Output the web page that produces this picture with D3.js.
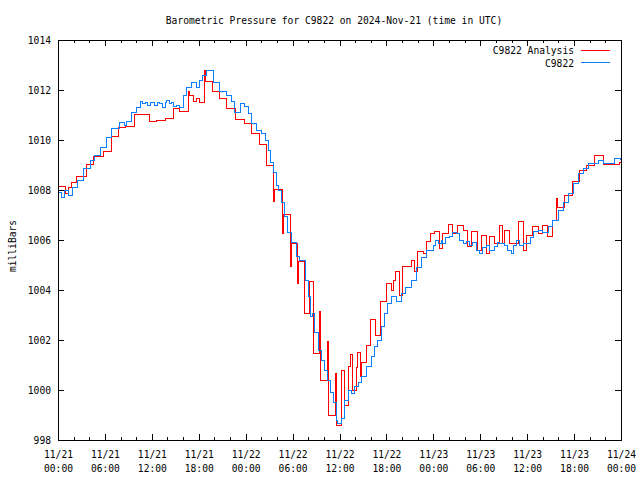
<!DOCTYPE html>
<html><head><meta charset="utf-8">
<script src="https://cdn.jsdelivr.net/npm/d3@7"></script>
<style>
body{margin:0;background:#fff}
svg{display:block}
text{font-family:"DejaVu Sans Mono","Liberation Mono",monospace;font-size:11px;fill:#000}
</style>
</head><body><svg id="c" width="640" height="480"></svg>
<script>
const chartTitle = "Barometric Pressure for C9822 on 2024-Nov-21 (time in UTC)";
const yLabel = "milliBars";
const seriesNames = ["C9822 Analysis", "C9822"];
const seriesColors = ["#ff0000", "#0a80ff"];
const yTicks = [998, 1000, 1002, 1004, 1006, 1008, 1010, 1012, 1014];
const startUTC = Date.UTC(2024, 10, 21, 0, 0);
const endUTC = Date.UTC(2024, 10, 24, 0, 0);

// Analysis (hours since start, mb)
const analysisHours = [0,0.9,1.32,1.75,2.39,3.67,4.6,5.78,6.86,7.7,8.69,9.75,11.75,12.61,13.8,14.73,15.59,16.65,16.78,17.27,17.72,18.06,18.7,18.87,19.76,20.7,21.5,22.74,23.89,24.75,25.72,26.67,27.5,27.64,28.75,28.9,29.7,29.85,30.65,30.8,31.56,32.13,32.65,33.4,33.6,34.45,34.6,35.5,35.65,36.2,36.67,37.1,37.4,37.65,38.17,38.3,38.7,38.85,39.5,39.95,40.6,41.2,42.0,42.6,42.85,43.2,43.7,44.1,45.2,45.6,46.0,46.8,47.1,47.7,48.2,48.8,49.2,49.9,50.5,51.1,51.8,52.4,52.9,53.6,54.1,54.8,55.2,55.8,56.4,56.9,57.1,57.8,58.9,59.5,59.9,60.7,61.4,62.0,62.6,63.3,63.7,63.85,64.8,65.85,66.7,67.55,68.6,69.7,71.8,72];
const analysisValues = [1008.16,1007.87,1008.10,1008.29,1008.53,1009.04,1009.36,1009.56,1010.13,1010.51,1010.56,1011.04,1010.76,1010.80,1010.87,1011.27,1011.13,1011.93,1011.80,1011.53,1011.67,1011.49,1012.80,1012.33,1011.93,1011.67,1011.27,1010.84,1010.67,1010.27,1009.83,1009.00,1007.53,1008.03,1006.28,1007.04,1004.93,1005.87,1004.27,1005.13,1003.07,1004.33,1001.47,1003.13,1000.40,1001.93,999.00,1000.67,998.60,1000.80,999.40,1000.93,1001.44,1000.00,1000.91,1001.49,1000.53,1001.10,1001.80,1002.83,1002.20,1003.53,1004.27,1004.00,1004.40,1004.73,1003.80,1004.93,1005.20,1004.73,1005.53,1005.47,1005.93,1006.27,1006.33,1005.67,1006.27,1006.64,1006.27,1006.60,1006.40,1005.73,1006.33,1005.60,1006.20,1005.47,1006.13,1005.87,1006.60,1005.88,1006.40,1005.88,1006.73,1005.60,1006.20,1006.53,1006.27,1006.60,1006.13,1006.80,1007.67,1007.31,1007.80,1008.33,1008.80,1009.00,1009.40,1009.03,1009.10,1009.10];

// Station observations (hours since start, mb)
const obsHours = [0,0.4,0.8,1.3,1.9,2.5,3.2,4.1,4.7,5.4,6.2,6.9,7.9,8.5,8.8,9.4,10.0,10.5,10.8,11.2,11.5,11.8,12.3,12.7,13.0,13.4,13.7,13.9,14.2,14.5,14.8,15.2,15.5,16.0,16.4,17.1,17.7,18.1,18.5,19.0,19.9,20.7,21.6,22.2,22.6,23.3,23.9,24.3,24.7,25.4,26.0,26.5,26.9,27.2,27.6,27.9,28.2,28.6,29.0,29.4,29.9,30.5,30.9,31.6,32.0,32.3,32.6,32.8,33.3,33.7,34.1,34.5,34.8,35.2,35.6,35.8,36.2,36.7,37.1,37.5,37.9,38.4,38.8,39.4,40.1,40.5,40.9,41.4,41.8,42.2,42.6,43.3,43.9,44.5,45.2,45.8,46.5,47.1,48.0,48.3,48.6,49.0,49.2,49.6,50.1,50.5,51.0,51.3,51.8,52.2,52.6,53.0,53.5,53.9,54.3,54.8,55.2,55.8,56.2,56.5,57.1,57.5,58.0,58.3,58.6,59.0,59.5,60.1,60.4,60.8,61.4,62.0,62.7,63.3,64.0,64.6,65.3,65.9,66.6,67.2,67.8,68.5,69.1,69.8,70.6,71.2,71.9];
const obsValues = [1007.9,1007.7,1008.0,1007.8,1008.1,1008.4,1008.85,1009.2,1009.4,1009.7,1010.1,1010.45,1010.7,1010.6,1010.75,1011.1,1011.3,1011.55,1011.45,1011.5,1011.4,1011.5,1011.4,1011.5,1011.45,1011.3,1011.5,1011.6,1011.45,1011.5,1011.35,1011.4,1011.3,1011.8,1012.1,1012.3,1012.1,1012.4,1012.6,1012.8,1012.3,1011.95,1011.8,1011.55,1011.1,1011.45,1011.35,1011.05,1010.65,1010.4,1010.25,1010.0,1009.6,1009.1,1008.7,1008.2,1008.0,1007.5,1006.95,1006.3,1005.9,1005.35,1005.2,1004.4,1003.75,1002.95,1003.05,1002.3,1001.6,1001.2,1000.8,1000.4,999.9,999.5,998.8,998.65,998.85,999.6,1000.0,999.85,1000.15,1000.3,1000.55,1000.95,1001.35,1001.75,1002.0,1002.55,1003.05,1003.45,1003.75,1003.55,1003.85,1004.1,1004.4,1004.9,1005.3,1005.6,1005.8,1006.0,1005.85,1006.0,1005.85,1006.1,1006.15,1006.3,1006.25,1006.0,1005.85,1005.95,1005.8,1005.9,1005.6,1005.45,1005.7,1005.8,1005.6,1005.75,1005.9,1005.85,1005.8,1005.6,1005.45,1005.8,1006.0,1005.8,1005.85,1005.85,1006.1,1006.35,1006.4,1006.3,1006.55,1006.8,1007.2,1007.5,1007.85,1008.25,1008.65,1008.85,1009.05,1009.05,1009.2,1009.05,1009.05,1009.25,1009.2];

const svg = d3.select("#c");
const L = 58, R = 621, T = 40, B = 440;
const CW = 5.8; // character advance of the chart font
const x = d3.scaleUtc().domain([new Date(startUTC), new Date(endUTC)]).range([L, R]);
const y = d3.scaleLinear().domain([998, 1014]).range([B, T]);
const H = 3600e3;
const toDate = h => new Date(startUTC + h * H);
const fit = sel => sel.attr("textLength", function() { return this.textContent.length * CW; }).attr("lengthAdjust", "spacingAndGlyphs");

const majorX = d3.range(0, 73, 6).map(toDate);
const minorX = d3.range(0, 73, 2).filter(h => h % 6 !== 0).map(toDate);

// title
svg.append("text").attr("x", 334).attr("y", 24).attr("text-anchor", "middle").text(chartTitle).call(fit);

// y label
svg.append("text").attr("transform", "translate(16,246) rotate(-90)").attr("text-anchor", "middle").text(yLabel).call(fit);

// data lines
const line = d3.line().x(d => x(d.t)).y(d => y(d.v)).curve(d3.curveStepAfter);
const aData = analysisHours.map((h, i) => ({t: toDate(h), v: analysisValues[i]}));
const oData = obsHours.map((h, i) => ({t: toDate(h), v: obsValues[i]}));
const plot = svg.append("g");
plot.append("path").datum(aData).attr("d", line).attr("fill", "none").attr("stroke", seriesColors[0]).attr("stroke-width", 1).attr("shape-rendering", "crispEdges");
plot.append("path").datum(oData).attr("d", line).attr("fill", "none").attr("stroke", seriesColors[1]).attr("stroke-width", 1).attr("shape-rendering", "crispEdges");

// axes
const fmtD = d3.utcFormat("%m/%d"), fmtT = d3.utcFormat("%H:%M");
const gB = svg.append("g").attr("transform", `translate(0,${B})`)
  .call(d3.axisBottom(x).tickValues(majorX).tickSize(-6).tickSizeOuter(0).tickFormat(""));
gB.selectAll(".tick").append("text").attr("text-anchor", "middle")
  .each(function(d) {
    const t = d3.select(this);
    t.append("tspan").attr("x", 0).attr("y", 18).text(fmtD(d)).call(fit);
    t.append("tspan").attr("x", 0).attr("y", 32).text(fmtT(d)).call(fit);
  });
svg.append("g").attr("transform", `translate(0,${B})`)
  .call(d3.axisBottom(x).tickValues(minorX).tickSize(-3).tickSizeOuter(0).tickFormat(""));
svg.append("g").attr("transform", `translate(0,${T})`)
  .call(d3.axisTop(x).tickValues(majorX).tickSize(-6).tickSizeOuter(0).tickFormat(""));
svg.append("g").attr("transform", `translate(0,${T})`)
  .call(d3.axisTop(x).tickValues(minorX).tickSize(-3).tickSizeOuter(0).tickFormat(""));
const gL = svg.append("g").attr("transform", `translate(${L},0)`)
  .call(d3.axisLeft(y).tickValues(yTicks).tickSize(-6).tickSizeOuter(0).tickPadding(7).tickFormat(d3.format("d")));
svg.append("g").attr("transform", `translate(${R},0)`)
  .call(d3.axisRight(y).tickValues(yTicks).tickSize(-6).tickSizeOuter(0).tickFormat(""));
svg.selectAll(".domain").remove();
svg.selectAll(".tick line").attr("stroke", "#000").attr("shape-rendering", "crispEdges");
gL.selectAll(".tick text").attr("font-family", null).attr("font-size", null).style("fill", "#000").call(fit);
gB.selectAll("text").attr("font-family", null).attr("font-size", null).style("fill", "#000");

// frame
svg.append("rect").attr("x", L).attr("y", T).attr("width", R - L).attr("height", B - T)
  .attr("fill", "none").attr("stroke", "#000").attr("shape-rendering", "crispEdges");

// legend
const leg = svg.append("g");
seriesNames.forEach((n, i) => {
  const yy = 50 + i * 12.5;
  leg.append("text").attr("x", 574).attr("y", yy + 4).attr("text-anchor", "end").text(n).call(fit);
  leg.append("line").attr("x1", 581).attr("x2", 610).attr("y1", yy).attr("y2", yy)
    .attr("stroke", seriesColors[i]).attr("stroke-width", 1).attr("shape-rendering", "crispEdges");
});
</script>
</body></html>
